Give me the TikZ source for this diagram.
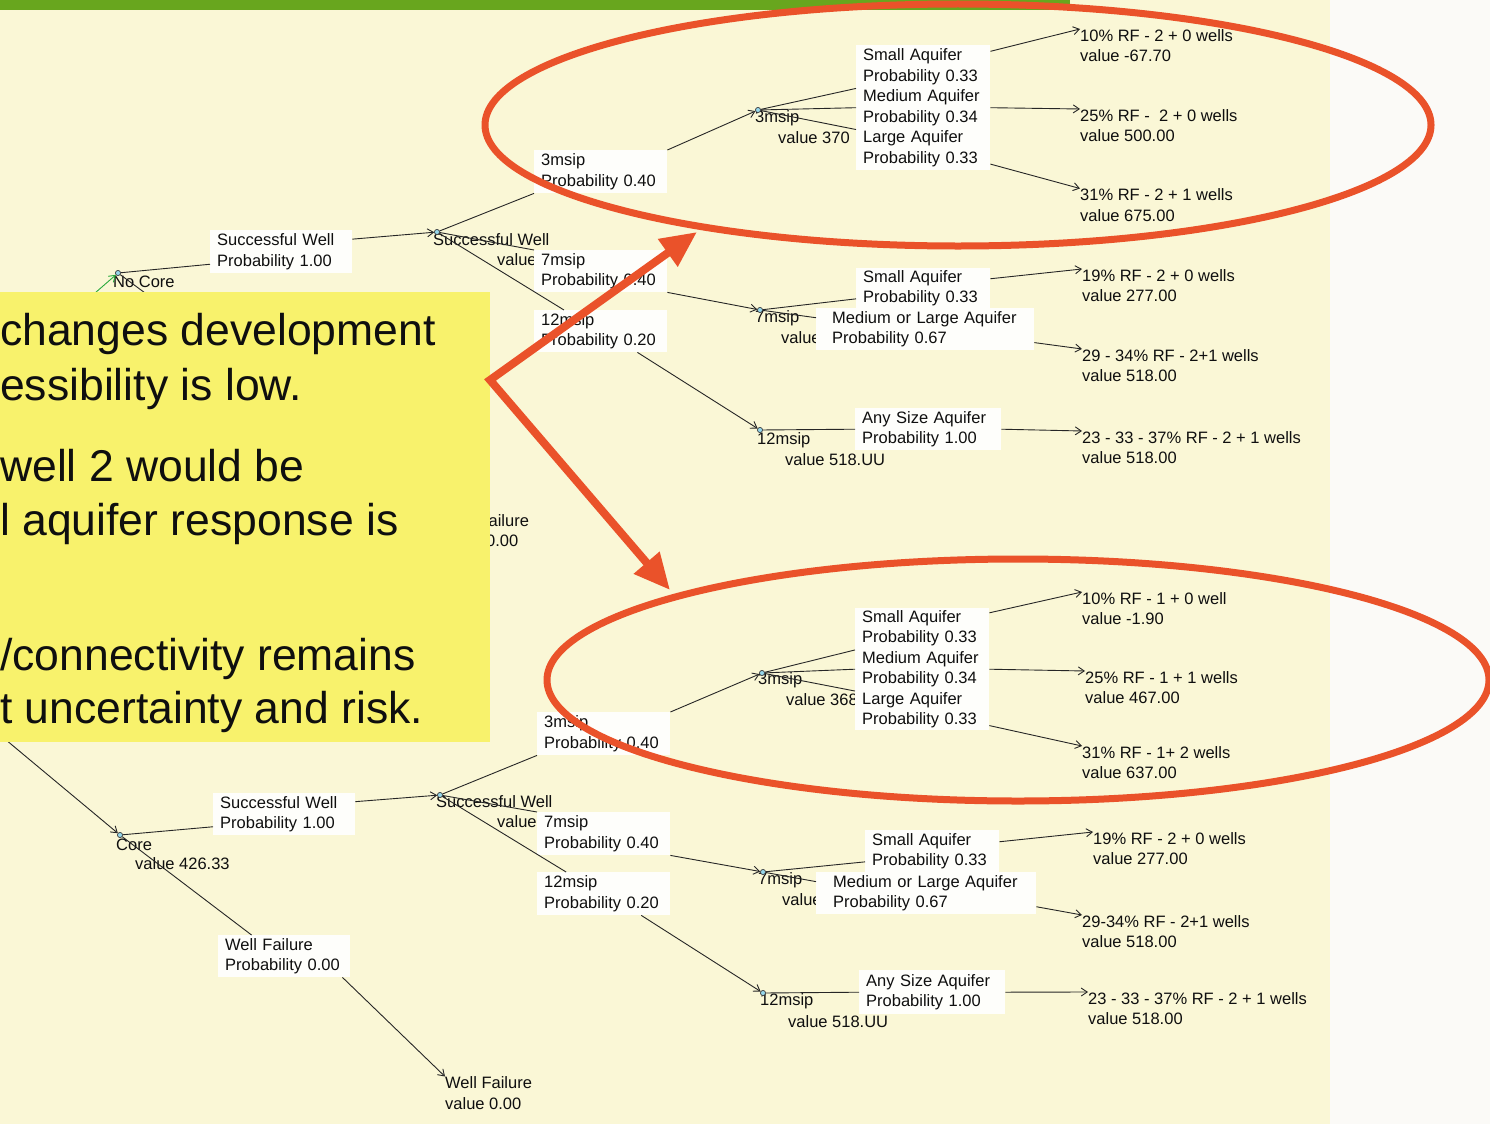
\documentclass[tikz,border=0pt]{standalone}
\usepackage{fontspec}
\setmainfont{Liberation Sans}
\usetikzlibrary{arrows.meta}
\definecolor{bgy}{RGB}{250,247,214}
\definecolor{bgw}{RGB}{251,250,247}
\definecolor{greenbar}{RGB}{104,166,30}
\definecolor{ybox}{RGB}{248,242,108}
\definecolor{redc}{RGB}{234,82,42}
\definecolor{labelw}{RGB}{254,254,251}
\definecolor{mkfill}{RGB}{150,215,235}
\definecolor{greenarr}{RGB}{40,170,60}
\definecolor{txtc}{RGB}{15,15,15}
\newcommand\tf{\fontsize{16.5}{20.5}\selectfont}
\newcommand\bigfont{\fontsize{44.5}{54}\selectfont}
\tikzset{
  lbl/.style={fill=labelw, anchor=north west, inner xsep=7pt, inner ysep=0pt, align=left, font=\tf, text=txtc},
  tx/.style={anchor=west, inner sep=0pt, font=\tf, align=left, text=txtc},
  mk/.style={circle, draw=black!75, fill=mkfill, inner sep=0pt, minimum size=5pt, line width=0.6pt},
  ln/.style={draw=black!85, line width=0.9pt},
  ar/.style={ln, -{Straight Barb[length=6pt,width=8pt,line width=0.9pt]}},
  redline/.style={draw=redc, line width=7pt},
  bigtx/.style={anchor=base west, inner sep=0pt, font=\bigfont, text=txtc}
}
\begin{document}
\begin{tikzpicture}[x=1pt,y=-1pt]
\useasboundingbox (0,0) rectangle (1490,1124);
\clip (0,0) rectangle (1490,1124);
\fill[bgw] (0,0) rectangle (1490,1124);
\fill[bgy] (0,0) rectangle (1330,1124);
\fill[greenbar] (0,0) rectangle (1070,10);

% ---------- markers ----------
\coordinate (root) at (-211,559);
\coordinate (cWF1in) at (252,372);
\coordinate (cWF1out) at (342,417);
\node[mk] (mNC) at (118,273) {};
\node[mk] (mSW1) at (437,232) {};
\node[mk] (m3a) at (758,110) {};
\node[mk] (m7a) at (760,310) {};
\node[mk] (m12a) at (760,430) {};
\node[mk] (mC) at (120,835) {};
\node[mk] (mSW2) at (440,795) {};
\node[mk] (m3b) at (762,673) {};
\node[mk] (m7b) at (763,872) {};
\node[mk] (m12b) at (763,993) {};

% ---------- texts at decision/chance nodes ----------
\node[tx] (tNC) at (113,282) {No Core};
\node[tx] (tSW1) at (433,240) {Successful Well};
\node[tx] (vSW1) at (497,260) {value};
\node[tx] (t3a) at (755,118) {3msip};
\node[tx] (v3a) at (778,138) {value 370};
\node[tx] (t7a) at (755,318) {7msip};
\node[tx] (v7a) at (781,338) {value};
\node[tx] (t12a) at (757,440) {12msip};
\node[tx] (v12a) at (785,460) {value 518.UU};
\node[tx] (tC) at (116,845) {Core};
\node[tx] (vC) at (135,864) {value 426.33};
\node[tx] (tSW2) at (436,802) {Successful Well};
\node[tx] (vSW2) at (497,822) {value};
\node[tx] (t3b) at (758,680) {3msip};
\node[tx] (v3b) at (786,700) {value 368};
\node[tx] (t7b) at (758,880) {7msip};
\node[tx] (v7b) at (782,900) {value};
\node[tx] (t12b) at (760,1001) {12msip};
\node[tx] (v12b) at (788,1022) {value 518.UU};

% ---------- terminal labels ----------
\node[tx] (T1) at (1080,45.5) {10\% RF - 2 + 0 wells\\value -67.70};
\node[tx] (T2) at (1080,125.5) {25\% RF - \ 2 + 0 wells\\value 500.00};
\node[tx] (T3) at (1080,205) {31\% RF - 2 + 1 wells\\value 675.00};
\node[tx] (T4) at (1082,285.5) {19\% RF - 2 + 0 wells\\value 277.00};
\node[tx] (T5) at (1082,365.5) {29 - 34\% RF - 2+1 wells\\value 518.00};
\node[tx] (T6) at (1082,447.5) {23 - 33 - 37\% RF - 2 + 1 wells\\value 518.00};
\node[tx] (TWF1) at (442,530.5) {Well Failure\\value 0.00};
\node[tx] (T1b) at (1082,608.5) {10\% RF - 1 + 0 well\\value -1.90};
\node[tx] (T2b) at (1085,687.5) {25\% RF - 1 + 1 wells\\value 467.00};
\node[tx] (T3b) at (1082,762.5) {31\% RF - 1+ 2 wells\\value 637.00};
\node[tx] (T4b) at (1093,848.5) {19\% RF - 2 + 0 wells\\value 277.00};
\node[tx] (T5b) at (1082,931.5) {29-34\% RF - 2+1 wells\\value 518.00};
\node[tx] (T6b) at (1088,1008.5) {23 - 33 - 37\% RF - 2 + 1 wells\\value 518.00};
\node[tx] (TWF2) at (445,1093) {Well Failure\\value 0.00};

% ---------- branch label boxes ----------
\node[lbl, text width=128pt, minimum height=43pt] (bSW1) at (210,230) {Successful Well\\Probability 1.00};
\node[lbl, text width=119pt, minimum height=43pt] (b3a) at (534,150) {3msip\\Probability 0.40};
\node[lbl, text width=119pt, minimum height=42pt] (b7a) at (534,250) {7msip\\Probability 0.40};
\node[lbl, text width=119pt, minimum height=42pt] (b12a) at (534,310) {12msip\\Probability 0.20};
\node[lbl, text width=120pt, minimum height=125pt] (bAqA) at (856,45) {Small Aquifer\\Probability 0.33\\Medium Aquifer\\Probability 0.34\\Large Aquifer\\Probability 0.33};
\node[lbl, text width=120pt, minimum height=40pt] (bSmA7) at (856,268) {Small Aquifer\\Probability 0.33};
\node[lbl, inner xsep=16pt, text width=186pt, minimum height=42pt] (bMLA7) at (816,308) {Medium or Large Aquifer\\Probability 0.67};
\node[lbl, text width=132pt, minimum height=42pt] (bAnyA) at (855,408) {Any Size Aquifer\\Probability 1.00};

\node[lbl, text width=128pt, minimum height=42pt] (bSW2) at (213,793) {Successful Well\\Probability 1.00};
\node[lbl, text width=118pt, minimum height=42pt] (bWF2) at (218,935) {Well Failure\\Probability 0.00};
\node[lbl, text width=119pt, minimum height=43pt] (b3b) at (537,712) {3msip\\Probability 0.40};
\node[lbl, text width=119pt, minimum height=43pt] (b7b) at (537,812) {7msip\\Probability 0.40};
\node[lbl, text width=119pt, minimum height=43pt] (b12b) at (537,872) {12msip\\Probability 0.20};
\node[lbl, text width=120pt, minimum height=122pt] (bAqB) at (855,608) {Small Aquifer\\Probability 0.33\\Medium Aquifer\\Probability 0.34\\Large Aquifer\\Probability 0.33};
\node[lbl, text width=120pt, minimum height=42pt] (bSmB7) at (865,830) {Small Aquifer\\Probability 0.33};
\node[lbl, inner xsep=17pt, text width=186pt, minimum height=42pt] (bMLB7) at (816,872) {Medium or Large Aquifer\\Probability 0.67};
\node[lbl, text width=132pt, minimum height=44pt] (bAnyB) at (859,970) {Any Size Aquifer\\Probability 1.00};

% ---------- connectors: upper tree ----------
\draw[ln, draw=greenarr, -{Straight Barb[length=6pt,width=8pt,line width=0.9pt]}] (root) -- (mNC);
\draw[ln] (mNC) -- (bSW1.190);
\draw[ar] (bSW1.10) -- (mSW1);
\draw[ln] (mNC) -- (cWF1in);
\draw[ar] (cWF1out) -- (TWF1.north west);
\draw[ln] (mSW1) -- (b3a.south west);
\draw[ln] (mSW1) -- (b7a.north west);
\draw[ln] (mSW1) -- (b12a.150);
\draw[ar] (b3a.north east) -- (m3a);
\draw[ar] (b7a.south east) -- (m7a);
\draw[ar] (b12a.-30) -- (m12a);
\draw[ln] (m3a) -- (bAqA.164);
\draw[ln] (m3a) -- (bAqA.west);
\draw[ln] (m3a) -- (bAqA.198);
\draw[ar] (bAqA.40) -- (T1.north west);
\draw[ar] (bAqA.east) -- (T2.north west);
\draw[ar] (bAqA.-40) -- (T3.north west);
\draw[ln] (m7a) -- (bSmA7.189);
\draw[ln] (m7a) -- (bMLA7.174);
\draw[ar] (bSmA7.8) -- (T4.north west);
\draw[ar] (bMLA7.-7) -- (T5.north west);
\draw[ln] (m12a) -- (bAnyA.west);
\draw[ar] (bAnyA.east) -- (T6.north west);

% ---------- connectors: lower tree ----------
\draw[ar] (root) -- (mC);
\draw[ln] (mC) -- (bSW2.190);
\draw[ar] (bSW2.10) -- (mSW2);
\draw[ln] (mC) -- (bWF2.147);
\draw[ar] (bWF2.-20) -- (TWF2.north west);
\draw[ln] (mSW2) -- (b3b.south west);
\draw[ln] (mSW2) -- (b7b.north west);
\draw[ln] (mSW2) -- (b12b.150);
\draw[ar] (b3b.north east) -- (m3b);
\draw[ar] (b7b.south east) -- (m7b);
\draw[ar] (b12b.-30) -- (m12b);
\draw[ln] (m3b) -- (bAqB.164);
\draw[ln] (m3b) -- (bAqB.west);
\draw[ln] (m3b) -- (bAqB.198);
\draw[ar] (bAqB.40) -- (T1b.north west);
\draw[ar] (bAqB.east) -- (T2b.north west);
\draw[ar] (bAqB.-40) -- (T3b.north west);
\draw[ln] (m7b) -- (bSmB7.189);
\draw[ln] (m7b) -- (bMLB7.174);
\draw[ar] (bSmB7.8) -- (T4b.north west);
\draw[ar] (bMLB7.-7) -- (T5b.north west);
\draw[ln] (m12b) -- (bAnyB.west);
\draw[ar] (bAnyB.east) -- (T6b.north west);

% redraw markers on top of lines
\foreach \m in {mNC,mSW1,m3a,m7a,m12a,mC,mSW2,m3b,m7b,m12b}{
  \fill[mkfill] (\m) circle (2.5pt);
  \draw[black!75, line width=0.6pt] (\m) circle (2.5pt);
}

% ---------- yellow text panel ----------
\fill[ybox] (0,292) rectangle (490,742);
\node[bigtx] (y1) at (0,345) {changes development};
\node[bigtx] (y2) at (0,400) {essibility is low.};
\node[bigtx] (y3) at (0,481) {well 2 would be};
\node[bigtx] (y4) at (0,535) {l aquifer response is};
\node[bigtx] (y5) at (0,670) {/connectivity remains};
\node[bigtx] (y6) at (0,723) {t uncertainty and risk.};

% ---------- red highlights ----------
\draw[redline] (958,125) ellipse [x radius=473, y radius=121];
\draw[redline] (1018,680) ellipse [x radius=471, y radius=121];
\coordinate (apex) at (490,380);
\coordinate (tipA) at (697,232);
\coordinate (tipB) at (670,590);
\draw[draw=redc, line width=8pt, miter limit=10,
  {Triangle[length=36pt,width=32pt]}-{Triangle[length=36pt,width=32pt]}] (tipA) -- (apex) -- (tipB);
\end{tikzpicture}
\end{document}
